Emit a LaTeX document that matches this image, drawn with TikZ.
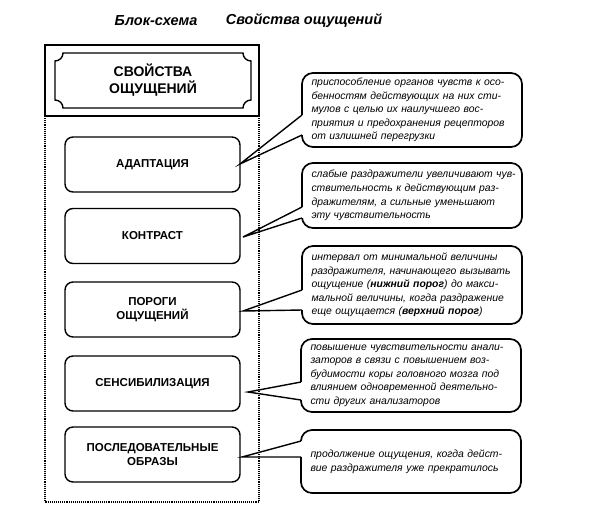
\documentclass[tikz,border=0pt]{standalone}
\usepackage{fontspec}
\setmainfont{Liberation Sans}
\usetikzlibrary{calc}
\newcommand\jl[1]{\makebox[201pt][s]{#1}\\}
\begin{document}
\begin{tikzpicture}[x=1pt,y=-1pt,
  box/.style={draw, line width=1.4pt, rounded corners=8pt, minimum width=175pt, minimum height=55pt,
    align=center, inner sep=0pt, outer sep=0pt, font=\fontsize{11.5}{14}\selectfont\bfseries},
  ttl/.style={align=center, inner sep=0pt, font=\fontsize{14}{17}\selectfont\bfseries},
  hdr/.style={inner sep=0pt, font=\fontsize{14.5}{17}\selectfont\bfseries\itshape},
  callout/.style={draw, line width=1.7pt, rounded corners=11pt, minimum width=220pt, text width=201pt,
    align=left, inner sep=0pt, outer sep=0pt, font=\fontsize{10.4}{13.6}\selectfont\itshape},
  frame/.style={line width=1.3pt},
  dotframe/.style={line width=1.1pt, densely dotted},
  tframe/.style={line width=1.4pt},
  gap/.style={white, line width=3.4pt},
  ptr/.style={line width=1.4pt, line join=miter}
]
\useasboundingbox (0,0) rectangle (601,509);

% header
\node[hdr] (h1) at (156,21) {Блок-схема};
\node[hdr] (h2) at (304,21) {Свойства ощущений};

% outer frame
\draw[frame] (45,116) -- (45,45) -- (259,45) -- (259,116) -- cycle;
\draw[dotframe] (45,116) -- (45,502) -- (259,502) -- (259,116);

% title box with concave corners
\draw[tframe] (63,53) -- (243,53) arc[start angle=180,end angle=90,radius=8]
  -- (251,100) arc[start angle=270,end angle=180,radius=8]
  -- (63,108) arc[start angle=0,end angle=-90,radius=8]
  -- (55,61) arc[start angle=90,end angle=0,radius=8] -- cycle;
\node[ttl] (t) at (153,80.5) {СВОЙСТВА\\ОЩУЩЕНИЙ};

% left boxes
\node[box] (b1) at (152.5,164.5) {АДАПТАЦИЯ};
\node[box] (b2) at (152.5,236) {КОНТРАСТ};
\node[box] (b3) at (152.5,309.5) {ПОРОГИ\\ОЩУЩЕНИЙ};
\node[box] (b4) at (152.5,383.5) {СЕНСИБИЛИЗАЦИЯ};
\node[box] (b5) at (152.5,454.5) {ПОСЛЕДОВАТЕЛЬНЫЕ\\ОБРАЗЫ};

% callouts
\node[callout, minimum height=74pt] (c1) at (412,110)
  {\jl{приспособление органов чувств к осо-}\jl{бенностям действующих на них сти-}\jl{мулов с целью их наилучшего вос-}\jl{приятия и предохранения рецепторов}от излишней перегрузки};
\node[callout, minimum height=65pt] (c2) at (412,195.5)
  {\jl{слабые раздражители увеличивают чув-}\jl{ствительность к действующим раз-}\jl{дражителям, а сильные уменьшают}эту чувствительность};
\node[callout, minimum height=78pt] (c3) at (412,285)
  {\jl{интервал от минимальной величины}\jl{раздражителя, начинающего вызывать}\jl{ощущение (\textbf{нижний порог}) до макси-}\jl{мальной величины, когда раздражение}еще ощущается (\textbf{верхний порог})};
\node[callout, minimum height=73pt] (c4) at (411,375.5)
  {\jl{повышение чувствительности анали-}\jl{заторов в связи с повышением воз-}\jl{будимости коры головного мозга под}\jl{влиянием одновременной деятельно-}сти других анализаторов};
\node[callout, minimum height=63pt] (c5) at (411,461.5)
  {\jl{продолжение ощущения, когда дейст-}вие раздражителя уже прекратилось};

% pointers
\coordinate (c1a) at ($(c1.north west)+(0,42)$);
\coordinate (c1b) at ($(c1.north west)+(0,62)$);
\coordinate (p1) at ($(b1.east)+(0,-0.5)$);
\coordinate (c2a) at ($(c2.north west)+(0,44)$);
\coordinate (c2b) at ($(c2.north west)+(0,55)$);
\coordinate (p2) at ($(b2.east)+(3,1)$);
\coordinate (c3a) at ($(c3.north west)+(0,44)$);
\coordinate (c3b) at ($(c3.north west)+(0,64)$);
\coordinate (p3) at ($(b3.east)+(3,1.5)$);
\coordinate (c4a) at ($(c4.north west)+(0,43)$);
\coordinate (c4b) at ($(c4.north west)+(0,61)$);
\coordinate (p4) at ($(b4.east)+(8,8.5)$);
\coordinate (c5a) at ($(c5.north west)+(0,11)$);
\coordinate (c5b) at ($(c5.north west)+(0,27)$);
\coordinate (p5) at ($(b5.east)+(2,2.5)$);
\foreach \i in {1,...,5}{
  \draw[gap] (c\i a) -- (c\i b);
  \draw[ptr] (c\i a) -- (p\i) -- (c\i b);
}
\end{tikzpicture}
\end{document}
